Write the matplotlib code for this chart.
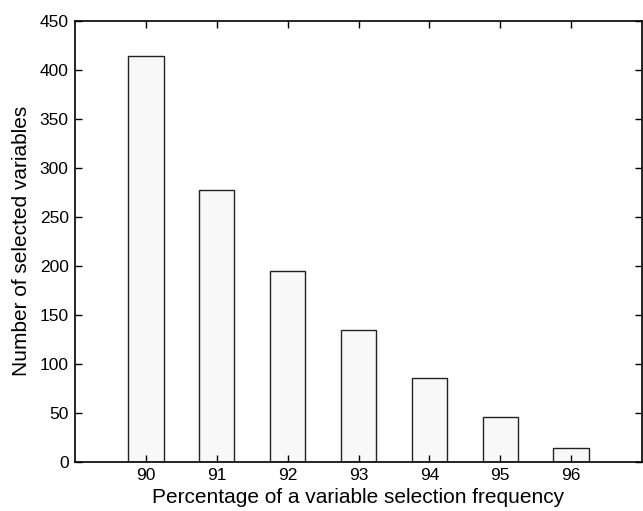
"""Bar chart: number of selected variables per selection-frequency percentage."""

import matplotlib

matplotlib.use("Agg")
import matplotlib.pyplot as plt

percentages = [90, 91, 92, 93, 94, 95, 96]
counts = [414, 277, 195, 134, 85, 46, 14]
y_ticks = [0, 50, 100, 150, 200, 250, 300, 350, 400, 450]

plt.rcParams["font.family"] = ["Liberation Sans", "DejaVu Sans"]

fig = plt.figure(figsize=(6.43, 5.11), dpi=100)
ax = fig.add_axes([0.1166, 0.0965, 0.882, 0.8624])

ax.bar(percentages, counts, width=0.5, color="#f8f8f8", edgecolor="#222222", linewidth=1.0)

ax.set_xlim(89, 97)
ax.set_ylim(0, 450)
ax.set_xticks(percentages)
ax.set_yticks(y_ticks)
ax.tick_params(direction="in", length=5, width=1, labelsize=12.5, top=True, right=True, pad=4.5)
for spine in ax.spines.values():
    spine.set_linewidth(1.2)

ax.set_xlabel("Percentage of a variable selection frequency", fontsize=15, labelpad=4)
ax.set_ylabel("Number of selected variables", fontsize=15, labelpad=6)

fig.savefig("out.png", dpi=100)
